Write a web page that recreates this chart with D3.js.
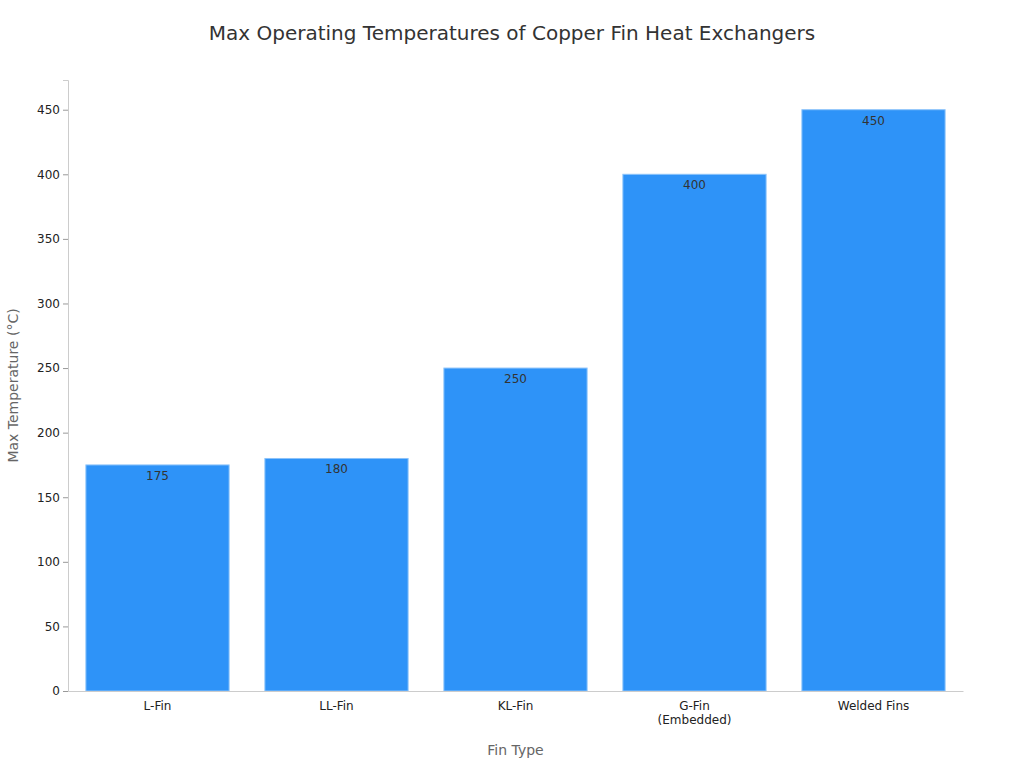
<html>
<head>
<meta charset="utf-8">
<script src="https://d3js.org/d3.v7.min.js"></script>
<style>
  body { margin: 0; background: #fff; font-family: "DejaVu Sans", sans-serif; }
</style>
</head>
<body>
<script>
  var categories = ["L-Fin", "LL-Fin", "KL-Fin", "G-Fin\n(Embedded)", "Welded Fins"];
  var values = [175, 180, 250, 400, 450];
  var yTicks = [0, 50, 100, 150, 200, 250, 300, 350, 400, 450];

  var width = 1024, height = 768;
  var margin = { left: 68, right: 61, top: 80, bottom: 77 };

  var svg = d3.select("body").append("svg")
    .attr("width", width).attr("height", height);

  var x = d3.scaleBand().domain(categories)
    .range([margin.left, width - margin.right])
    .paddingInner(0.2).paddingOuter(0.1);
  var y = d3.scaleLinear().domain([0, 473])
    .range([height - margin.bottom, margin.top]);

  svg.append("text").attr("x", 512).attr("y", 40)
    .attr("text-anchor", "middle").attr("font-size", 20).attr("fill", "#333")
    .text("Max Operating Temperatures of Copper Fin Heat Exchangers");

  svg.selectAll("rect.bar").data(values).enter().append("rect")
    .attr("class", "bar")
    .attr("x", (d, i) => x(categories[i]))
    .attr("width", x.bandwidth())
    .attr("y", d => y(d))
    .attr("height", d => y(0) - y(d))
    .attr("fill", "#2e93f8")
    .attr("stroke", "#8cc3fa").attr("stroke-width", 1);

  svg.selectAll("text.val").data(values).enter().append("text")
    .attr("class", "val")
    .attr("x", (d, i) => x(categories[i]) + x.bandwidth() / 2)
    .attr("y", d => y(d) + 15)
    .attr("text-anchor", "middle").attr("font-size", 12).attr("fill", "#333")
    .text(d => d);

  var yAxis = svg.append("g").attr("transform", "translate(" + margin.left + ",0)")
    .call(d3.axisLeft(y).tickValues(yTicks).tickSize(5).tickPadding(3));
  yAxis.select(".domain").attr("stroke", "#ccc");
  yAxis.selectAll(".tick line").attr("stroke", "#999");
  yAxis.selectAll(".tick text").attr("font-size", 12).attr("fill", "#222")
    .attr("font-family", "DejaVu Sans");

  var xAxis = svg.append("g").attr("transform", "translate(0," + y(0) + ")")
    .call(d3.axisBottom(x).tickSize(0).tickPadding(10));
  xAxis.select(".domain").attr("stroke", "#ccc");
  xAxis.selectAll(".tick text").attr("font-size", 12).attr("fill", "#222")
    .attr("font-family", "DejaVu Sans")
    .each(function (d) {
      var t = d3.select(this), lines = d.split("\n");
      t.text(null);
      lines.forEach((l, i) => t.append("tspan").attr("x", 0).attr("dy", i ? "1.2em" : "0.71em").text(l));
    });

  svg.append("text").attr("x", (margin.left + width - margin.right) / 2).attr("y", 755)
    .attr("text-anchor", "middle").attr("font-size", 14).attr("fill", "#666")
    .text("Fin Type");
  svg.append("text").attr("transform", "translate(18," + (y(0) + y(473)) / 2 + ") rotate(-90)")
    .attr("text-anchor", "middle").attr("font-size", 14).attr("fill", "#666")
    .text("Max Temperature (°C)");
</script>
</body>
</html>
